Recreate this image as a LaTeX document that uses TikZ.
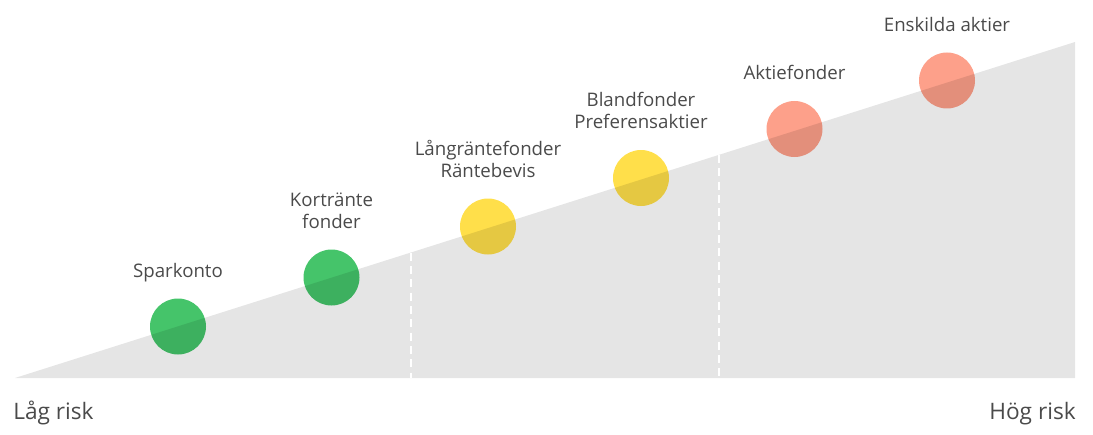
\documentclass[tikz,border=0pt]{standalone}
\usepackage{fontspec}
\setmainfont{Open Sans}
\usepackage{tikz}
\usetikzlibrary{positioning}
\definecolor{lowgreen}{HTML}{45C46A}
\definecolor{midyellow}{HTML}{FFDF4A}
\definecolor{highred}{HTML}{FDA08A}
\definecolor{labelgray}{HTML}{4A4A4A}

\begin{document}
\begin{tikzpicture}[x = .75pt, y = -.75pt,
  riskdot/.style = {circle, minimum size = 42pt, inner sep = 0, fill = #1},
  risklabel/.style = {inner sep = 0, text depth = 0pt, align = center, font = \fontsize{14}{16.5}\selectfont, text = labelgray},
  endlabel/.style = {inner sep = 0, font = \fontsize{17}{19}\selectfont, text = labelgray}]
 \useasboundingbox (0, 0) rectangle (1093, 435);
  % the dots sit on the slope
  \node[riskdot = lowgreen] (spar) at (178, 326.5) {};
  \node[riskdot = lowgreen] (kort) at (331.5, 277.5) {};
  \node[riskdot = midyellow] (lang) at (488, 226.5) {};
  \node[riskdot = midyellow] (bland) at (641, 178) {};
  \node[riskdot = highred] (aktf) at (794.5, 129) {};
  \node[riskdot = highred] (ensk) at (947, 80.5) {};
  % slope on top, see-through
  \fill[black, opacity = .1] (15, 378) -- (1075, 42) -- (1075, 378) -- cycle;
  \coordinate (cutA) at (410.5, 252.5);
  \coordinate (cutAb) at (410.5, 378);
  \coordinate (cutB) at (718.5, 155);
  \coordinate (cutBb) at (718.5, 378);
  \draw[white, line width = 1.5pt, dash pattern = on 6pt off 4pt] (cutA) -- (cutAb);
  \draw[white, line width = 1.5pt, dash pattern = on 6pt off 4pt] (cutB) -- (cutBb);
  \node[risklabel, above = 15.5pt of spar] (sparL) {Sparkonto};
  \node[risklabel, above = 15.5pt of kort] (kortL) {Kortränte\\fonder};
  \node[risklabel, above = 15.5pt of lang] (langL) {Långräntefonder\\Räntebevis};
  \node[risklabel, above = 15.5pt of bland] (blandL) {Blandfonder\\Preferensaktier};
  \node[risklabel, above = 15.5pt of aktf] (aktfL) {Aktiefonder};
  \node[risklabel, above = 15.5pt of ensk] (enskL) {Enskilda aktier};
  \node[endlabel, anchor = base west] (low) at (13, 419) {Låg risk};
  \node[endlabel, anchor = base east] (high) at (1076, 419) {Hög risk};
 \end{tikzpicture}
\end{document}
